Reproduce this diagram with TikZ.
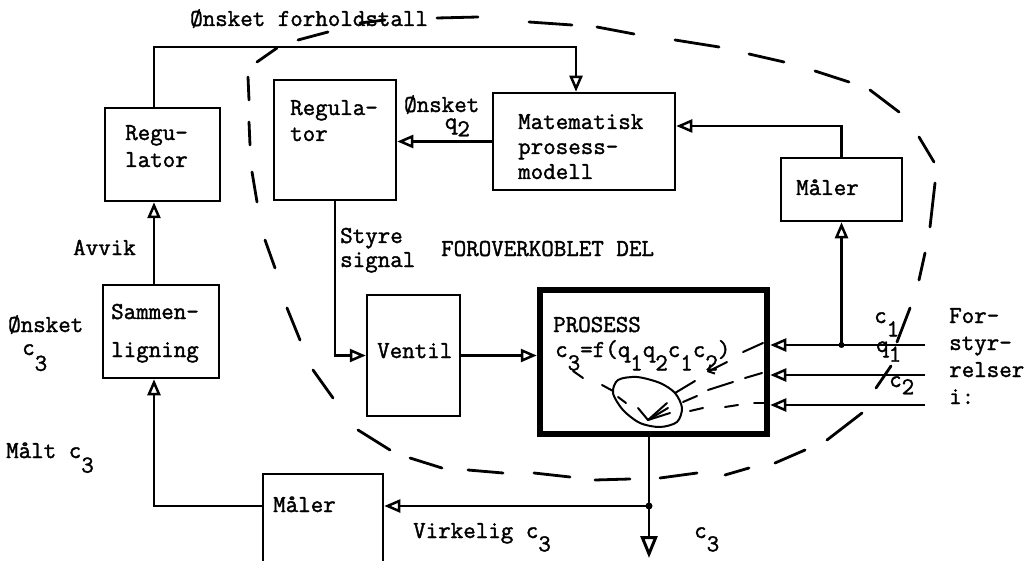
\documentclass[tikz,border=0pt]{standalone}
\usepackage{fontspec}
\usetikzlibrary{arrows.meta}
\newfontfamily\tw[FakeBold=1.5]{Latin Modern Mono}
\newcommand{\lo}[2][0.55em]{\raisebox{-#1}{#2}}
\begin{document}
\begin{tikzpicture}[x=1pt,y=-1pt,
  box/.style={draw, line width=2.5pt, inner sep=0pt},
  arr/.style={line width=2.5pt, -{Triangle[open, length=16pt, width=13pt, line width=2.5pt]}},
  bigarr/.style={line width=2.5pt, -{Triangle[open, length=22pt, width=17pt, line width=3pt]}},
  hand/.style={line width=2.8pt, line cap=round},
  sketch/.style={line width=2pt, line cap=round},
  txt/.style={anchor=base west, inner sep=0pt, font=\tw\fontsize{24.3}{28}\selectfont}]
\useasboundingbox (0,0) rectangle (1024,561);
\fill[white] (0,0) rectangle (1024,561);

% boxes
\node[box, minimum width=115pt, minimum height=93pt] (regL) at (162.5,154.5) {};
\node[box, minimum width=122pt, minimum height=120pt] (regI) at (335,140) {};
\node[box, minimum width=182pt, minimum height=97pt] (mat) at (584,141.5) {};
\node[box, minimum width=121pt, minimum height=63pt] (malU) at (841.5,189.5) {};
\node[box, minimum width=116pt, minimum height=93pt] (sam) at (161,331.5) {};
\node[box, minimum width=93pt, minimum height=121pt] (ven) at (413.5,355.5) {};
\node[draw, line width=6.5pt, inner sep=0pt, minimum width=227pt, minimum height=144pt] (pro) at (653.5,362) {};
\node[box, minimum width=120pt, minimum height=140pt] (malB) at (323,544) {};

% helper coordinates
\coordinate (t1) at (154,47);
\coordinate (t2) at (576,47);
\coordinate (mc) at (700,126);
\coordinate (i1) at (925,345);
\coordinate (i2) at (925,375);
\coordinate (i3) at (925,405);
\coordinate (j) at (649,506);
\coordinate (out) at (649,558);

% connectors
\draw[arr] (regL.north -| t1) -- (t1) -- (t2) -- (mat.north -| t2);
\draw[arr] (mat.west) -- (mat.west -| regI.east);
\draw[arr] (malU.north) -- (malU.north |- mc) -- (mat.east |- mc);
\draw[arr] (i1) -- (i1 -| pro.east);
\draw[arr] (i2) -- (i2 -| pro.east);
\draw[arr] (i3) -- (i3 -| pro.east);
\draw[arr] (malU.south |- i1) -- (malU.south);
\fill (malU.south |- i1) circle (3pt);
\draw[arr] (regI.south) |- (ven.west);
\draw[arr] (ven.east) -- (ven.east -| pro.west);
\draw[bigarr] (j |- pro.south) -- (out);
\fill (j) circle (3.5pt);
\draw[arr] (j) -- (j -| malB.east);
\draw[arr] (malB.west |- j) -| (sam.south -| t1);
\draw[arr] (sam.north -| t1) -- (regL.south -| t1);

% dashed boundary of the feed-forward part
\foreach \a/\b/\c/\d in {
  257/62/277/48, 298/40/328/32, 360/23/385/20, 437/18/478/17,
  529/22/572/25, 597/27/634/34, 675/40/719/47, 749/54/784/62,
  815/71/849/82, 870/90/899/112, 919/137/934/162, 935/183/930/227,
  925/253/919/280, 910/308/897/342, 891/366/876/388, 862/413/827/440,
  805/450/775/463, 749/468/725/475, 697/473/660/478, 630/479/595/480,
  570/477/534/473, 503/473/468/470, 442/468/410/458, 390/450/358/430,
  333/398/313/370, 300/340/287/308, 275/268/265/240, 257/202/252/172,
  250/145/249/122, 249/100/248/77}
  \draw[hand] (\a,\b) -- (\c,\d);

% sketch inside the process
\draw[sketch] plot[smooth cycle] coordinates {(618,380) (637,377) (660,383) (675,393) (682,408) (677,422) (660,427) (640,423) (623,410) (613,393)};
\draw[sketch] (602,385) -- (613,391);
\draw[sketch] (618,397) -- (626,403);
\draw[sketch] (638,408) -- (648,420);
\draw[sketch] (667,403) -- (648,420);
\draw[sketch] (668,408) -- (648,420);
\draw[sketch] (670,413) -- (648,420);
\draw[sketch] (675,393) -- (695,381);
\draw[sketch] (683,402) -- (697,396);
\draw[sketch] (708,390) -- (733,382);
\draw[sketch] (745,378) -- (762,373);
\draw[sketch] (690,411) -- (703,408);
\draw[sketch] (725,407) -- (738,405);
\draw[sketch] (754,403) -- (765,403);
\draw[sketch] (743,352) -- (763,343);
\draw[sketch, -{Straight Barb[length=5pt]}] (727,362) -- (707,372);
\draw[sketch] (573,371) -- (583,378);

% texts
\node[txt] (tfh) at (190,26) {Ønsket forholdstall};
\node[txt] (trl1) at (125,140) {Regu-};
\node[txt] (trl2) at (125,167) {lator};
\node[txt] (tri1) at (290,115) {Regula-};
\node[txt] (tri2) at (290,141) {tor};
\node[txt] (toq) at (404,112) {Ønsket\llap{\raisebox{-17pt}{q\lo[0.3em]{2}}\hspace*{9.4pt}}};
\node[txt] (tm1) at (518,129) {Matematisk};
\node[txt] (tm2) at (518,154) {prosess-};
\node[txt] (tm3) at (518,179) {modell};
\node[txt] (tmu) at (796,195) {Måler};
\node[txt] (tav) at (73,255) {Avvik};
\node[txt] (tst1) at (340,243) {Styre};
\node[txt] (tst2) at (340,267) {signal};
\node[txt] (tff) at (441,256) {FOROVERKOBLET DEL};
\node[txt] (toc1) at (8,332) {Ønsket};
\node[txt] (toc2) at (22,355) {c\lo[0.65em]{3}};
\node[txt] (tsa1) at (111,319) {Sammen-};
\node[txt] (tsa2) at (111,357) {ligning};
\node[txt] (tve) at (377,358) {Ventil};
\node[txt] (tpr1) at (553,332) {PROSESS};
\node[txt] (tpr2) at (555,357) {c\lo{3}=f(q\lo{1}q\lo{2}c\lo{1}c\lo{2})};
\node[txt] (tmc) at (6,458) {Målt c\lo[0.6em]{3}};
\node[txt] (tmb) at (273,512) {Måler};
\node[txt] (tvi) at (413,538) {Virkelig c\lo{3}};
\node[txt] (tc3) at (694,538) {c\lo{3}};
\node[txt] (tc1) at (874,323) {c\lo{1}};
\node[txt] (tq1) at (876,352) {q\lo[0.4em]{1}};
\node[txt] (tc2) at (889,387) {c\lo[0.3em]{2}};
\node[txt] (tfo1) at (949,323) {For-};
\node[txt] (tfo2) at (949,350) {styr-};
\node[txt] (tfo3) at (949,377) {relser};
\node[txt] (tfo4) at (949,404) {i:};
\end{tikzpicture}
\end{document}
